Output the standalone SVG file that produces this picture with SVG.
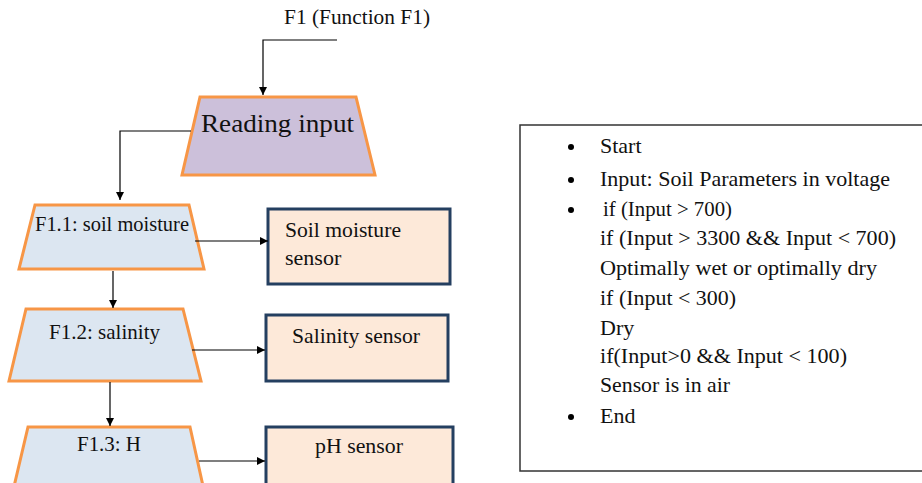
<svg xmlns="http://www.w3.org/2000/svg" width="922" height="483" viewBox="0 0 922 483">
<style>
text{font-family:"Liberation Serif","Times New Roman",serif;fill:#111}
.trap{stroke:#F79646;stroke-width:3;stroke-linejoin:miter}
.f1{fill:#CCC0DA}
.fx{fill:#DCE6F1}
.sens{fill:#FDE9D9;stroke:#243F60;stroke-width:3}
.conn{fill:none;stroke:#000;stroke-width:1.2}
.lbl{font-size:21px}
.sl{font-size:22px}
.al{font-size:22px}
</style>
<defs>
<marker id="ah" viewBox="0 0 10 10" refX="10" refY="5" markerWidth="8" markerHeight="8" markerUnits="userSpaceOnUse" orient="auto"><path d="M0,0L10,5L0,10z" fill="#000"/></marker>
</defs>
<rect width="922" height="483" fill="#fff"/>
<g id="title"><text x="284" y="24" font-size="20" textLength="146" lengthAdjust="spacingAndGlyphs">F1 (Function F1)</text></g>
<g id="reading"><polygon class="trap f1" points="200,97 356,97 375,175 182,175"/><text x="201" y="132" font-size="25" textLength="153" lengthAdjust="spacingAndGlyphs">Reading input</text></g>
<g id="f11"><polygon class="trap fx" points="35,205 189,205 204,269 19,269"/><text class="lbl" x="35" y="231" textLength="154" lengthAdjust="spacingAndGlyphs">F1.1: soil moisture</text></g>
<g id="f12"><polygon class="trap fx" points="26,309 183,309 201,381 9,381"/><text class="lbl" x="49" y="339" textLength="111" lengthAdjust="spacingAndGlyphs">F1.2: salinity</text></g>
<g id="f13"><polygon class="trap fx" points="28,427 190,427 205,495 12,495"/><text class="lbl" x="77" y="451" textLength="64" lengthAdjust="spacingAndGlyphs">F1.3: H</text></g>
<g id="s1"><rect class="sens" x="268" y="209" width="182" height="75"/><text class="sl" x="285" y="237" textLength="116" lengthAdjust="spacingAndGlyphs">Soil moisture</text><text class="sl" x="285" y="265">sensor</text></g>
<g id="s2"><rect class="sens" x="266" y="315" width="182" height="66"/><text class="sl" x="292" y="343" textLength="128" lengthAdjust="spacingAndGlyphs">Salinity sensor</text></g>
<g id="s3"><rect class="sens" x="266" y="427" width="187" height="70"/><text class="sl" x="315" y="453" textLength="88" lengthAdjust="spacingAndGlyphs">pH sensor</text></g>
<g id="connectors">
<polyline class="conn" points="337,40 263,40 263,95" marker-end="url(#ah)"/>
<polyline class="conn" points="191,131 120,131 120,200" marker-end="url(#ah)"/>
<line class="conn" x1="195" y1="241" x2="268" y2="241" marker-end="url(#ah)"/>
<line class="conn" x1="113" y1="271" x2="113" y2="308" marker-end="url(#ah)"/>
<line class="conn" x1="192" y1="350" x2="265" y2="350" marker-end="url(#ah)"/>
<line class="conn" x1="110" y1="382" x2="110" y2="426" marker-end="url(#ah)"/>
<line class="conn" x1="199" y1="461" x2="265" y2="461" marker-end="url(#ah)"/>
</g>
<g id="algo">
<rect x="520" y="125" width="410" height="346" fill="#fff" stroke="#333" stroke-width="1.5"/>
<circle cx="571" cy="147" r="3"/><text class="al" x="600" y="153">Start</text>
<circle cx="571" cy="180" r="3"/><text class="al" x="600" y="186" textLength="290" lengthAdjust="spacingAndGlyphs">Input: Soil Parameters in voltage</text>
<circle cx="571" cy="210" r="3"/><text class="al" x="603" y="216" textLength="129" lengthAdjust="spacingAndGlyphs">if (Input &gt; 700)</text>
<text class="al" x="600" y="245" textLength="296" lengthAdjust="spacingAndGlyphs">if (Input &gt; 3300 &amp;&amp; Input &lt; 700)</text>
<text class="al" x="600" y="275" textLength="277" lengthAdjust="spacingAndGlyphs">Optimally wet or optimally  dry</text>
<text class="al" x="600" y="305" textLength="136" lengthAdjust="spacingAndGlyphs">if (Input &lt; 300)</text>
<text class="al" x="600" y="335">Dry</text>
<text class="al" x="600" y="363" textLength="247" lengthAdjust="spacingAndGlyphs">if(Input&gt;0 &amp;&amp; Input &lt; 100)</text>
<text class="al" x="600" y="392" textLength="130" lengthAdjust="spacingAndGlyphs">Sensor is in air</text>
<circle cx="571" cy="417" r="3"/><text class="al" x="600" y="423">End</text>
</g>
</svg>
